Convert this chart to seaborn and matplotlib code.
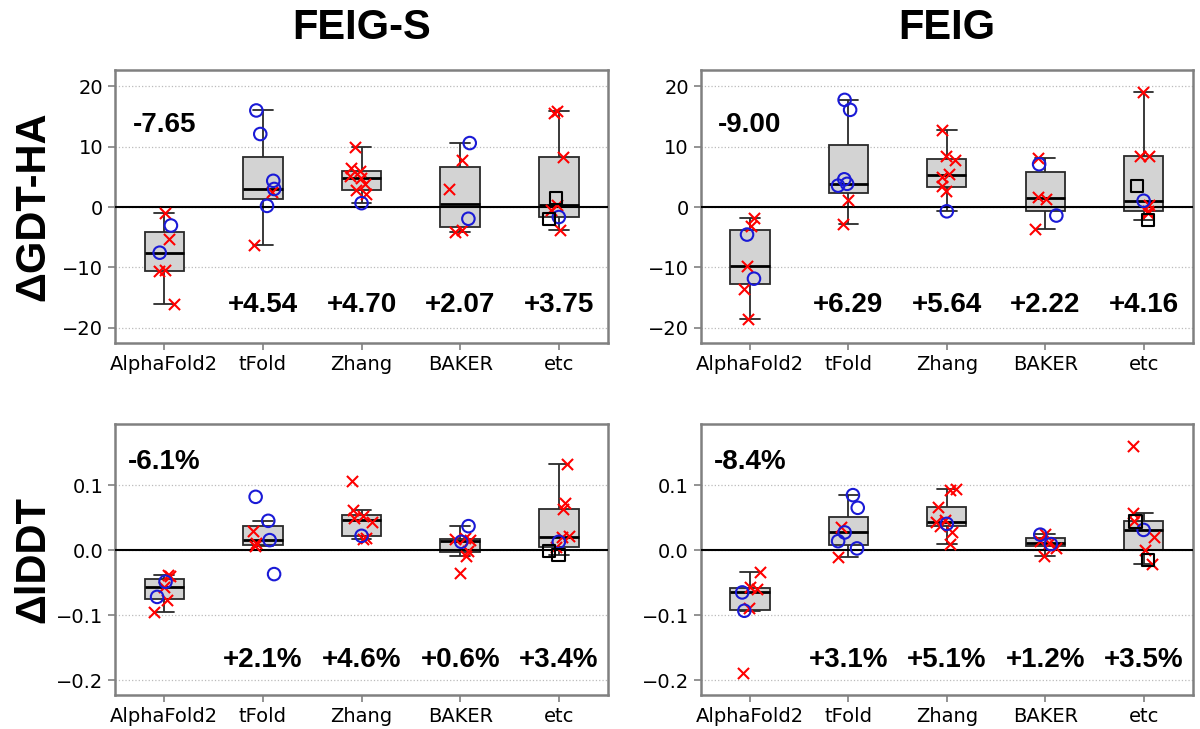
import numpy as np
import pandas as pd
import matplotlib
matplotlib.use("Agg")
import matplotlib.pyplot as plt
from matplotlib.markers import MarkerStyle
import seaborn as sns

methods = ["AlphaFold2", "tFold", "Zhang", "BAKER", "etc"]

# FEIG-S, delta GDT-HA
feigs_gdt_x = {"AlphaFold2": [-0.9, -5.2, -10.65, -10.4, -16.05],
               "tFold": [2.5, -6.3],
               "Zhang": [10.0, 6.45, 5.9, 5.2, 4.75, 3.9, 2.8, 2.2],
               "BAKER": [7.85, 2.98, -3.76, -4.14],
               "etc": [15.85, 15.55, 8.3, 0.4, -0.45, -3.85]}
feigs_gdt_o = {"AlphaFold2": [-3.05, -7.55],
               "tFold": [16.0, 12.1, 4.35, 3.0, 0.2],
               "Zhang": [0.65],
               "BAKER": [10.6, -1.93],
               "etc": [-1.65]}
feigs_gdt_s = {"etc": [1.5, -2.0]}
feigs_gdt_txt = ["-7.65", "+4.54", "+4.70", "+2.07", "+3.75"]

# FEIG, delta GDT-HA
feig_gdt_x = {"AlphaFold2": [-1.8, -3.1, -9.8, -13.5, -18.5],
              "tFold": [1.2, -2.8],
              "Zhang": [12.8, 8.5, 7.75, 5.5, 5.0, 3.55, 2.6],
              "BAKER": [8.1, 1.75, 1.4, -3.7],
              "etc": [19.0, 8.5, 8.4, 0.4, -0.7, -1.0]}
feig_gdt_o = {"AlphaFold2": [-4.55, -11.85],
              "tFold": [17.75, 16.1, 4.6, 3.85, 3.55],
              "Zhang": [-0.7],
              "BAKER": [7.1, -1.4],
              "etc": [1.05]}
feig_gdt_s = {"etc": [3.5, -2.1]}
feig_gdt_txt = ["-9.00", "+6.29", "+5.64", "+2.22", "+4.16"]

# FEIG-S, delta lDDT
feigs_lddt_x = {"AlphaFold2": [-0.0385, -0.0395, -0.0565, -0.077, -0.095],
                "tFold": [0.0297, 0.0103, 0.0067],
                "Zhang": [0.1067, 0.0615, 0.052, 0.049, 0.043, 0.018, 0.017],
                "BAKER": [0.019, 0.0165, 0.0154, -0.001, -0.0087, -0.0349],
                "etc": [0.1318, 0.0728, 0.0626, 0.021, 0.0195, 0.005]}
feigs_lddt_o = {"AlphaFold2": [-0.0487, -0.072],
                "tFold": [0.082, 0.0451, 0.0154, -0.0369],
                "Zhang": [0.022],
                "BAKER": [0.0369, 0.0128],
                "etc": [0.0128]}
feigs_lddt_s = {"etc": [-0.001, -0.0077]}
feigs_lddt_txt = ["-6.1%", "+2.1%", "+4.6%", "+0.6%", "+3.4%"]

# FEIG, delta lDDT
feig_lddt_x = {"AlphaFold2": [-0.0333, -0.06, -0.0564, -0.0897, -0.1887],
               "tFold": [0.0359, -0.0103],
               "Zhang": [0.0938, 0.0922, 0.066, 0.0456, 0.043, 0.0378, 0.0275, 0.0093],
               "BAKER": [0.0249, 0.0145, 0.0109, 0.004, -0.0088],
               "etc": [0.1606, 0.057, 0.045, 0.0197, 0.0, -0.0218]}
feig_lddt_o = {"AlphaFold2": [-0.0651, -0.0933],
               "tFold": [0.0846, 0.0651, 0.0272, 0.0138, 0.0026],
               "Zhang": [0.0404],
               "BAKER": [0.0238, 0.0093],
               "etc": [0.0311]}
feig_lddt_s = {"etc": [0.044, -0.0155]}
feig_lddt_txt = ["-8.4%", "+3.1%", "+5.1%", "+1.2%", "+3.5%"]


def make_frame(crosses, circles, squares):
    rows = []
    for kind, d in (("x", crosses), ("o", circles), ("s", squares)):
        for m, vals in d.items():
            for v in vals:
                rows.append((m, v, kind))
    return pd.DataFrame(rows, columns=["method", "value", "kind"])


sns.set_style("ticks")
plt.rcParams["font.family"] = ["DejaVu Sans"]
plt.rcParams["text.color"] = "black"
plt.rcParams["xtick.labelcolor"] = "black"
plt.rcParams["ytick.labelcolor"] = "black"
bold_font = ["Liberation Sans", "DejaVu Sans"]

np.random.seed(3)

fig = plt.figure(figsize=(12, 7.29), dpi=100)
positions = [[0.0958, 0.5295, 0.411, 0.3745], [0.584, 0.5295, 0.41, 0.3745],
             [0.0958, 0.0466, 0.411, 0.3717], [0.584, 0.0466, 0.41, 0.3717]]

panels = [
    (make_frame(feigs_gdt_x, feigs_gdt_o, feigs_gdt_s), feigs_gdt_txt, (-22.5, 22.7), (13.6, -16.2)),
    (make_frame(feig_gdt_x, feig_gdt_o, feig_gdt_s), feig_gdt_txt, (-22.5, 22.7), (13.6, -16.2)),
    (make_frame(feigs_lddt_x, feigs_lddt_o, feigs_lddt_s), feigs_lddt_txt, (-0.223, 0.194), (0.135, -0.169)),
    (make_frame(feig_lddt_x, feig_lddt_o, feig_lddt_s), feig_lddt_txt, (-0.223, 0.194), (0.135, -0.169)),
]

circle = MarkerStyle("o", fillstyle="none")
square = MarkerStyle("s", fillstyle="none")

for i, (df, txt, ylim, ty) in enumerate(panels):
    ax = fig.add_axes(positions[i])
    sns.boxplot(data=df, x="method", y="value", order=methods, width=0.4,
                color="#d3d3d3", saturation=1, linecolor="#2a2a2a", linewidth=1.3,
                showfliers=False, ax=ax,
                medianprops=dict(color="black", linewidth=2))
    ax.axhline(0, color="black", lw=1.5, zorder=3)
    sns.stripplot(data=df[df.kind == "x"], x="method", y="value", order=methods,
                  jitter=0.12, marker="x", color="red", size=8, linewidth=1.5,
                  ax=ax, zorder=4)
    sns.stripplot(data=df[df.kind == "o"], x="method", y="value", order=methods,
                  jitter=0.12, marker=circle, color="#1a1ad6", size=9, linewidth=1.5,
                  ax=ax, zorder=4)
    sns.stripplot(data=df[df.kind == "s"], x="method", y="value", order=methods,
                  jitter=0.12, marker=square, color="black", size=9, linewidth=1.5,
                  ax=ax, zorder=4)

    ax.set_xlim(-0.5, 4.5)
    ax.set_ylim(*ylim)
    if i < 2:
        ax.set_yticks([-20, -10, 0, 10, 20])
    else:
        ax.set_yticks([-0.2, -0.1, 0.0, 0.1])
    ax.grid(axis="y", linestyle=":", color="#bbbbbb", linewidth=0.9)
    ax.set_axisbelow(True)
    ax.set_xlabel("")
    ax.set_ylabel("")
    ax.tick_params(labelsize=14, color="#808080", labelcolor="black", length=5, width=1.2)
    for sp in ax.spines.values():
        sp.set_visible(True)
        sp.set_color("#808080")
        sp.set_linewidth(1.8)

    for j, t in enumerate(txt):
        yy = ty[0] if j == 0 else ty[1]
        ax.text(j, yy, t, ha="center", va="center", fontsize=20, color="black",
                fontweight="bold", family=bold_font, zorder=5)

    if i == 0:
        ax.set_title("FEIG-S", fontsize=30, fontweight="bold", family=bold_font,
                     pad=22, color="black")
    if i == 1:
        ax.set_title("FEIG", fontsize=30, fontweight="bold", family=bold_font,
                     pad=22, color="black")

fig.text(0.028, 0.5295 + 0.3745 / 2, "ΔGDT-HA", rotation=90, ha="center", va="center",
         fontsize=30, fontweight="bold", family=bold_font, color="black")
fig.text(0.028, 0.0466 + 0.3717 / 2, "ΔlDDT", rotation=90, ha="center", va="center",
         fontsize=30, fontweight="bold", family=bold_font, color="black")

fig.savefig("out.png", dpi=100)
